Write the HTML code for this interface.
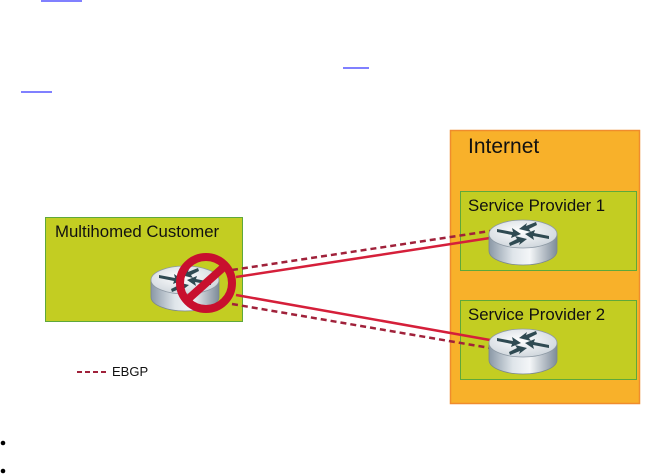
<!DOCTYPE html>
<html><head><meta charset="utf-8"><style>
html,body{margin:0;padding:0;background:#fff;width:646px;height:474px;overflow:hidden}
</style></head><body>
<svg width="646" height="474" viewBox="0 0 646 474" xmlns="http://www.w3.org/2000/svg" font-family="Liberation Sans, sans-serif">
<defs>
<linearGradient id="rs" x1="0" x2="1" y1="0" y2="0">
<stop offset="0" stop-color="#8a98a6"/><stop offset="0.35" stop-color="#dfe5ea"/><stop offset="0.6" stop-color="#f4f6f8"/><stop offset="1" stop-color="#7d8b99"/>
</linearGradient>
<radialGradient id="rt" cx="0.45" cy="0.4" r="0.7">
<stop offset="0" stop-color="#ffffff"/><stop offset="1" stop-color="#c9d1d8"/>
</radialGradient>
<g id="router">
<path d="M-34,-8 L-34,9 A34,14 0 0 0 34,9 L34,-8 Z" fill="url(#rs)" stroke="#7a8793" stroke-width="0.8"/>
<ellipse cx="0" cy="-8" rx="34" ry="14" fill="url(#rt)" stroke="#8d99a4" stroke-width="0.8"/>
<g fill="#2f4a52">
<path d="M-26,-13 L-10,-10 L-11,-14 L-2,-8 L-12,-4 L-11,-7 L-26,-10 Z"/>
<path d="M-4,-13 L4,-19 L3,-16 L13,-20 L14,-17 L6,-13 L8,-10 Z"/>
<path d="M26,-3 L10,-6 L11,-2 L2,-8 L12,-12 L11,-9 L26,-6 Z"/>
<path d="M4,-3 L-4,3 L-3,0 L-13,4 L-14,1 L-6,-3 L-8,-6 Z"/>
</g>
</g>
</defs>
<line x1="41" y1="1" x2="82" y2="1" stroke="#0000ff" stroke-width="1"/>
<line x1="343" y1="68" x2="369" y2="68" stroke="#0000ff" stroke-width="1"/>
<line x1="21" y1="92" x2="52" y2="92" stroke="#0000ff" stroke-width="1"/>
<rect x="450.5" y="130.5" width="189" height="273" fill="#f8b12a" stroke="#f08c2c" stroke-width="1.5"/>
<text x="468" y="153" font-size="21" fill="#111">Internet</text>
<rect x="460.5" y="191.5" width="176" height="79" fill="#c3cd22" stroke="#5ea83b" stroke-width="1"/>
<text x="468" y="211" font-size="16.8" fill="#111">Service Provider 1</text>
<rect x="460.5" y="300.5" width="176" height="79" fill="#c3cd22" stroke="#5ea83b" stroke-width="1"/>
<text x="468" y="320" font-size="16.8" fill="#111">Service Provider 2</text>
<rect x="45.5" y="217.5" width="197" height="104" fill="#c3cd22" stroke="#5ea83b" stroke-width="1"/>
<text x="55" y="237" font-size="16.8" fill="#111">Multihomed Customer</text>
<g stroke="#a0213a" stroke-width="2.5" fill="none">
<line x1="232" y1="270" x2="490" y2="231" stroke-dasharray="6,4"/>
<line x1="232" y1="304" x2="490" y2="348" stroke-dasharray="6,4"/>
</g>
<g stroke="#d51f3a" stroke-width="2.5" fill="none">
<line x1="236" y1="277" x2="490" y2="238"/>
<line x1="236" y1="295" x2="490" y2="340"/>
</g>
<use href="#router" x="185" y="288"/>
<use href="#router" x="523" y="242"/>
<use href="#router" x="523" y="351"/>
<circle cx="206" cy="283" r="26" fill="none" stroke="#c8102e" stroke-width="8"/>
<line x1="186" y1="301" x2="226" y2="265" stroke="#c8102e" stroke-width="8"/>
<line x1="77" y1="372" x2="107" y2="372" stroke="#a0213a" stroke-width="2" stroke-dasharray="5,3"/>
<text x="112" y="376" font-size="13" fill="#111">EBGP</text>
<circle cx="3" cy="443" r="2.3" fill="#000"/>
<circle cx="3" cy="471" r="2.3" fill="#000"/>
</svg>
</body></html>
